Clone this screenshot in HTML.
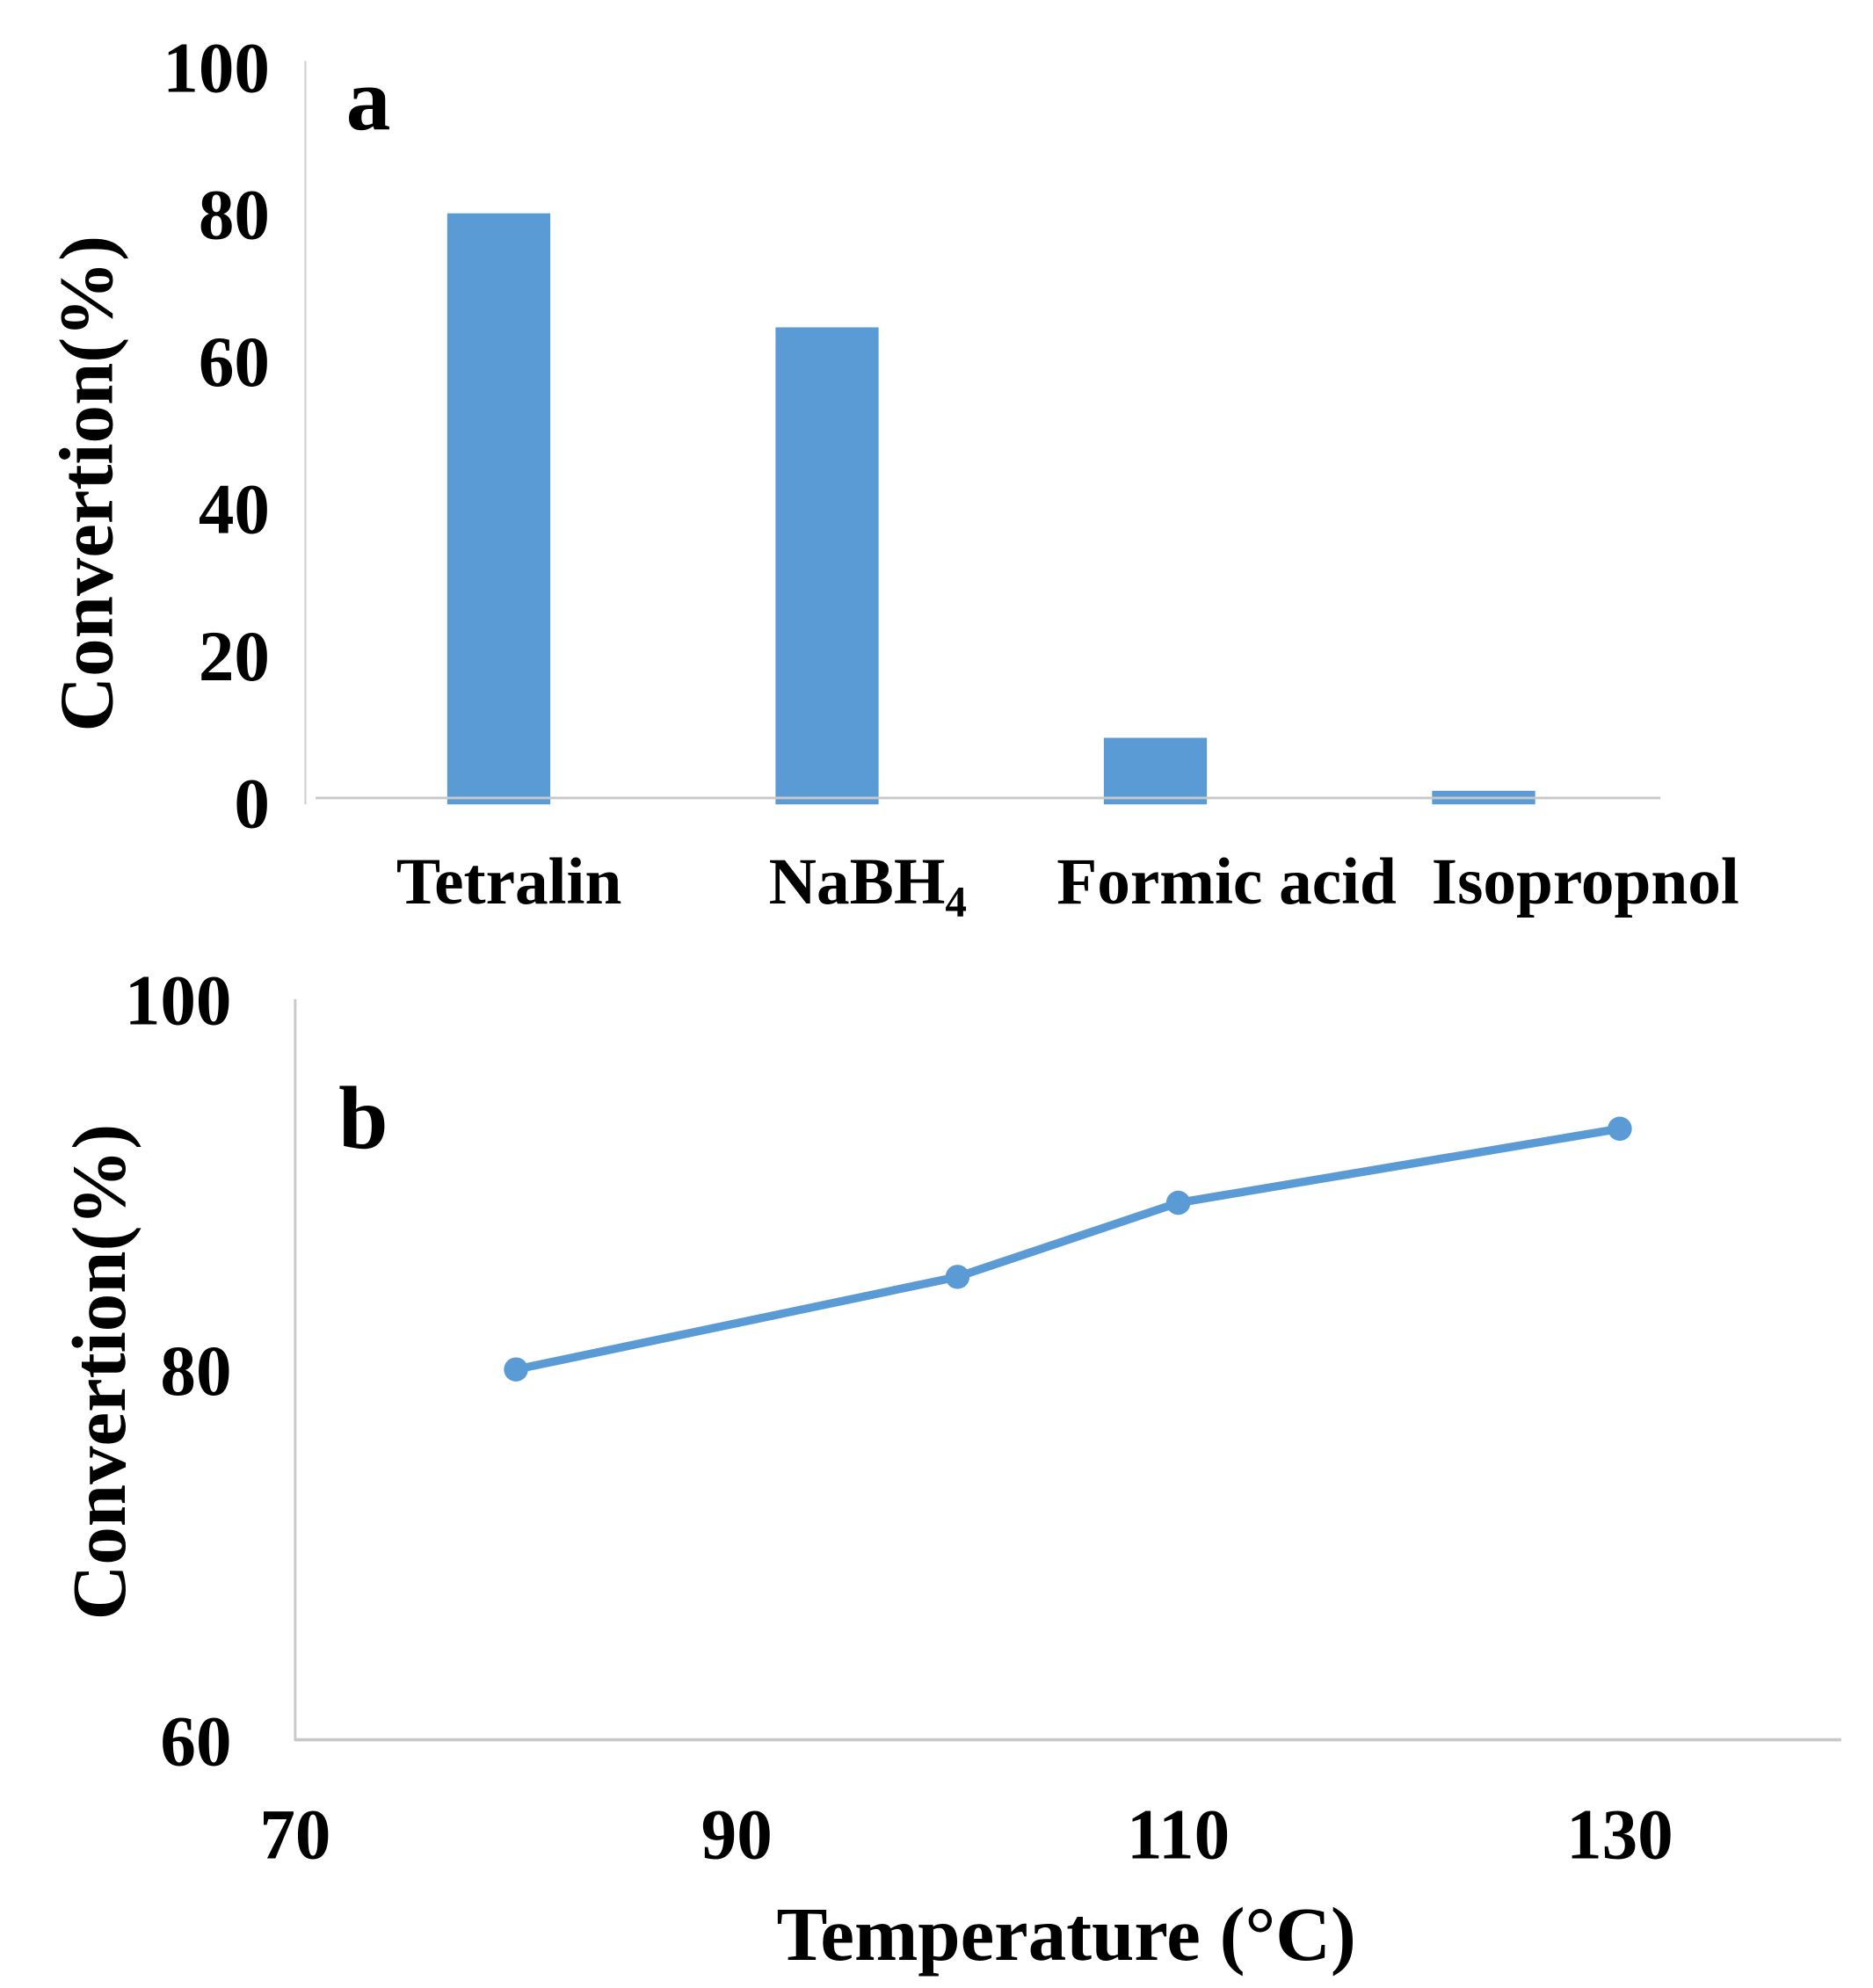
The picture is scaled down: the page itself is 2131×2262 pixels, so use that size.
<!DOCTYPE html>
<html><head><meta charset="utf-8"><style>
html,body{margin:0;padding:0;background:#fff;}
svg{display:block;}
text{font-family:"Liberation Serif",serif;font-weight:bold;fill:#000;}
</style></head><body>
<svg id="fig" width="2131" height="2262" viewBox="0 0 1472 1562" preserveAspectRatio="none">
<g id="pa"></g>
<g id="pb"></g>
</svg>
<script>
const catsA = ["Tetralin", "NaBH", "Formic acid", "Isopropnol"];
const valsA = [80, 64.5, 8.7, 1.5];
const ticksA = [0, 20, 40, 60, 80, 100];

const tempsB = [80, 100, 110, 130];
const valsB = [80, 85, 89, 93];
const yTicksB = [60, 80, 100];
const xTicksB = [70, 90, 110, 130];

const NS = "http://www.w3.org/2000/svg";
function mk(parent, tag, attrs, txt) {
  const e = document.createElementNS(NS, tag);
  for (const k in attrs) e.setAttribute(k, attrs[k]);
  if (txt !== undefined) e.textContent = txt;
  parent.appendChild(e);
  return e;
}
const blue = "#5B9BD5";

// Panel A
const pa = document.getElementById("pa");
const yA = v => 630 - v * 5.78;
const xA = i => 392 + i * 258;
let e;
e = mk(pa, "line", {x1: 240, y1: 48, x2: 240, y2: 632, stroke: "#d0d0d0", "stroke-width": 1.5});


ticksA.forEach(t => {
  const el = mk(pa, "text", {x: 212, y: yA(t) + 20, "font-size": 56, "text-anchor": "end"}, String(t));
  
  
});
valsA.forEach((v, i) => {
  const r = mk(pa, "rect", {x: xA(i) - 40.5, y: yA(v), width: 81, height: 632 - yA(v), fill: blue});
  
  
});
e = mk(pa, "line", {x1: 248, y1: 627, x2: 1305, y2: 627, stroke: "#c8c8c8", "stroke-width": 2});


catsA.forEach((c, i) => {
  const t = mk(pa, "text", {x: xA(i) + 8 + i * 24, y: 710, "font-size": 52, "text-anchor": "middle"}, c);
  if (c === "NaBH") {
    mk(t, "tspan", {"font-size": 34, dy: 10}, "4");
  }
  
  
});
e = mk(pa, "text", {x: 0, y: 0, "font-size": 60, "text-anchor": "middle", transform: "translate(88,380) rotate(-90)"}, "Convertion(%)");


e = mk(pa, "text", {x: 272, y: 102, "font-size": 70}, "a");



// Panel B
const pb = document.getElementById("pb");
const yB = v => 1367 - (v - 60) * 14.55;
const xB = v => 232 + (v - 70) * 17.35;
e = mk(pb, "line", {x1: 232, y1: 785, x2: 232, y2: 1368, stroke: "#c8c8c8", "stroke-width": 2});


e = mk(pb, "line", {x1: 232, y1: 1367, x2: 1447, y2: 1367, stroke: "#c8c8c8", "stroke-width": 2.5});


yTicksB.forEach(t => {
  const el = mk(pb, "text", {x: 182, y: yB(t) + 20, "font-size": 56, "text-anchor": "end"}, String(t));
  
  
});
xTicksB.forEach(t => {
  const el = mk(pb, "text", {x: xB(t), y: 1460, "font-size": 56, "text-anchor": "middle"}, String(t));
  
  
});
const pts = tempsB.map((t, i) => xB(t) + "," + yB(valsB[i])).join(" ");
e = mk(pb, "polyline", {points: pts, fill: "none", stroke: blue, "stroke-width": 6.5, "stroke-linejoin": "round"});


tempsB.forEach((t, i) => {
  const c = mk(pb, "circle", {cx: xB(t), cy: yB(valsB[i]), r: 9.5, fill: blue});
  
  
});
e = mk(pb, "text", {x: 838, y: 1540, "font-size": 60, "text-anchor": "middle"}, "Temperature (°C)");


e = mk(pb, "text", {x: 0, y: 0, "font-size": 60, "text-anchor": "middle", transform: "translate(98,1078) rotate(-90)"}, "Convertion(%)");


e = mk(pb, "text", {x: 266, y: 902, "font-size": 70}, "b");


</script>
</body></html>
